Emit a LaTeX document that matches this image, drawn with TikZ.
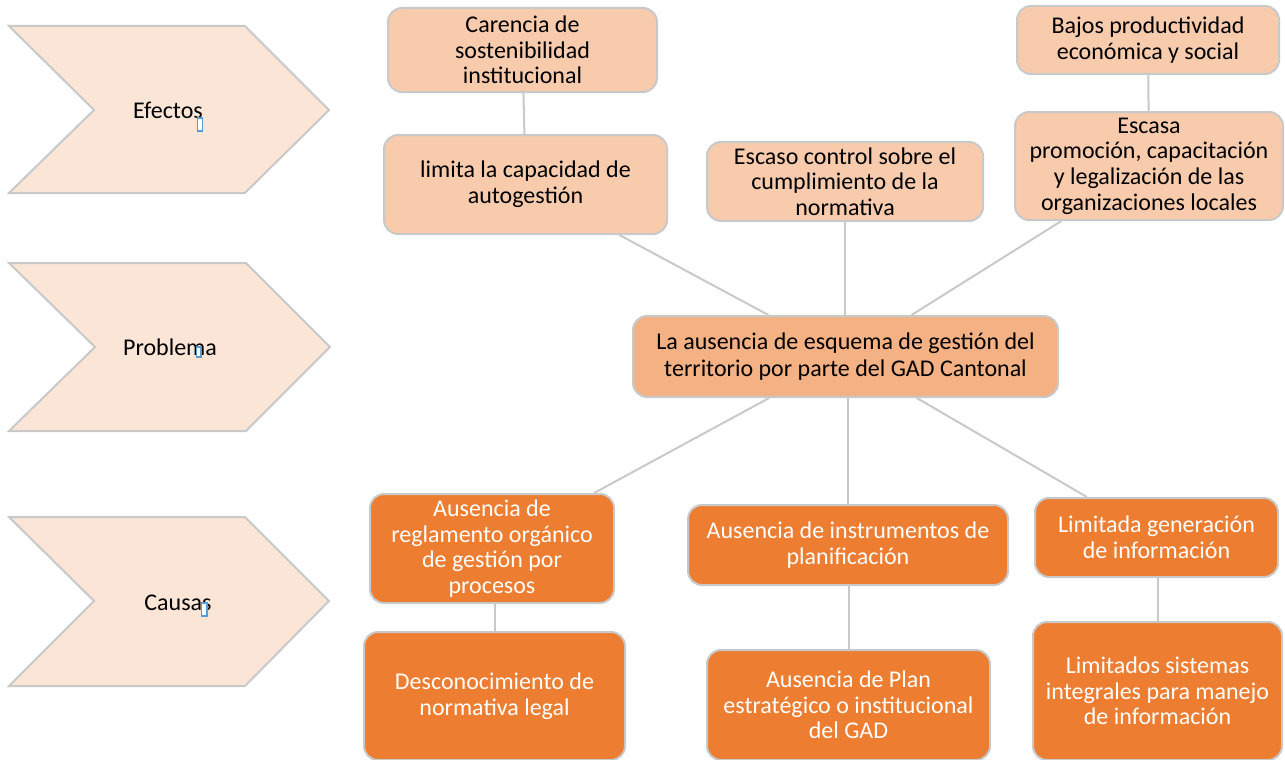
\documentclass[tikz,border=0pt]{standalone}
\usepackage{fontspec}
\setmainfont{Carlito}
\definecolor{lightbox}{HTML}{F8CBAD}
\definecolor{hubc}{HTML}{F4B183}
\definecolor{darkbox}{HTML}{ED7D31}
\definecolor{chev}{HTML}{FBE5D6}
\definecolor{edgec}{HTML}{C9C9C9}
\definecolor{cursorc}{HTML}{5B9BD5}
\begin{document}
\begin{tikzpicture}[x=1pt,y=-1pt,
  boxbase/.style={draw=edgec, line width=2pt, rounded corners=14pt, align=center,
    inner sep=0pt, font=\fontsize{24}{25.6}\selectfont},
  lbox/.style={boxbase, fill=lightbox, text=black},
  hbox/.style={boxbase, fill=hubc, text=black, font=\fontsize{24}{27}\selectfont},
  dbox/.style={boxbase, fill=darkbox, text=white},
  chevron/.style={draw=edgec, line width=2pt, fill=chev},
  chevtext/.style={font=\fontsize{24}{26}\selectfont, inner sep=0pt},
  link/.style={draw=edgec, line width=2pt},
  cursormark/.style={draw=cursorc, line width=1.2pt, fill=white}]
\useasboundingbox (0,0) rectangle (1285,760);
% chevrons
\draw[chevron] (9,26) -- (245,26) -- (329,110) -- (245,193) -- (9,193) -- (94,110) -- cycle;
\draw[chevron] (9,263) -- (246,263) -- (330,347) -- (246,431) -- (9,431) -- (95,347) -- cycle;
\draw[chevron] (9,517) -- (245,517) -- (329,601) -- (245,686) -- (9,686) -- (94,601) -- cycle;
\node[chevtext] (efectos) at (168,110) {Efectos};
\node[chevtext] (problema) at (170,347) {Problema};
\node[chevtext] (causas) at (178,603) {Causas};
\draw[cursormark] (197.5,118) rectangle (202.5,131);
\draw[cursormark] (196.5,347) rectangle (201,357);
\draw[cursormark] (201.5,603) rectangle (207,616);
% boxes
\node[lbox, minimum width=269pt, minimum height=84pt] (car) at (522.5,50) {Carencia de\\sostenibilidad\\institucional};
\node[lbox, minimum width=283pt, minimum height=99pt] (lim) at (525.5,184.5) {limita la capacidad de\\autogesti\'on};
\node[lbox, minimum width=276pt, minimum height=79pt] (esc) at (845,181.5) {Escaso control sobre el\\cumplimiento de la\\normativa};
\node[lbox, minimum width=262pt, minimum height=68pt] (baj) at (1148,40) {Bajos productividad\\econ\'omica y social};
\node[lbox, minimum width=268pt, minimum height=108pt] (esa) at (1149,166) {Escasa\\promoci\'on, capacitaci\'on\\y legalizaci\'on de las\\organizaciones locales};
\node[hbox, minimum width=425pt, minimum height=81pt] (hub) at (845.5,356.5) {La ausencia de esquema de gesti\'on del\\territorio por parte del GAD Cantonal};
\node[dbox, minimum width=244pt, minimum height=109pt] (reg) at (492,548.5) {Ausencia de\\reglamento org\'anico\\de gesti\'on por\\procesos};
\node[dbox, minimum width=320pt, minimum height=80pt] (ins) at (848,545) {Ausencia de instrumentos de\\planificaci\'on};
\node[dbox, minimum width=243pt, minimum height=79pt] (gen) at (1156.5,537.5) {Limitada generaci\'on\\de informaci\'on};
\node[dbox, minimum width=261pt, minimum height=128pt] (des) at (494.5,696) {Desconocimiento de\\normativa legal};
\node[dbox, minimum width=283pt, minimum height=110pt] (pla) at (848.5,705) {Ausencia de Plan\\estrat\'egico o institucional\\del GAD};
\node[dbox, minimum width=249pt, minimum height=138pt] (sis) at (1157.5,691) {Limitados sistemas\\integrales para manejo\\de informaci\'on};
% connectors
\draw[link] (car) -- (lim);
\draw[link] (baj) -- (esa);
\draw[link] (hub) -- (lim);
\draw[link] (hub.north -| esc) -- (esc);
\draw[link] (hub) -- (esa);
\draw[link] (hub) -- (reg);
\draw[link] (hub.south -| ins) -- (ins);
\draw[link] (hub) -- (gen);
\draw[link] (reg.south -| des) -- (des);
\draw[link] (ins.south -| pla) -- (pla);
\draw[link] (gen.south -| sis) -- (sis);
\end{tikzpicture}
\end{document}
